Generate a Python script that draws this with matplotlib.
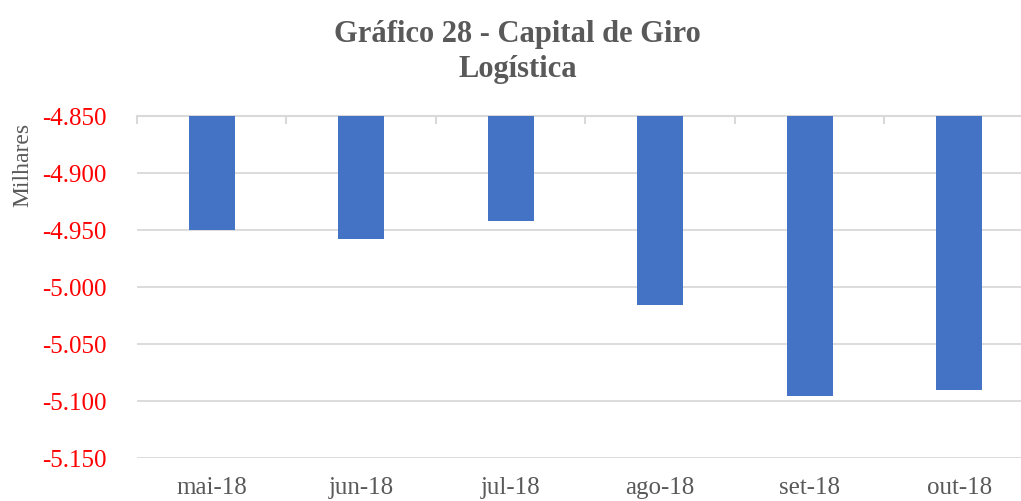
import matplotlib
matplotlib.use("Agg")
import matplotlib.pyplot as plt
import numpy as np

# Data (values in thousands)
months = ["mai-18", "jun-18", "jul-18", "ago-18", "set-18", "out-18"]
capital_giro = [-4.950, -4.958, -4.942, -5.016, -5.096, -5.090]
y_ticks = [-4.85, -4.90, -4.95, -5.00, -5.05, -5.10, -5.15]

axis_top = max(y_ticks)
axis_bottom = min(y_ticks)


def fmt(v):
    return "{:.3f}".format(v)


plt.rcParams["font.family"] = ["Liberation Serif", "DejaVu Serif"]

fig = plt.figure(figsize=(10.21, 5.02), dpi=100)
ax = fig.add_axes([137 / 1021, 1 - 459 / 502, (1034 - 137) / 1021, (459 - 117) / 502])

x = np.arange(len(months))
heights = [v - axis_top for v in capital_giro]
ax.bar(x, heights, bottom=axis_top, width=0.31, color="#4472C4", zorder=3)

ax.set_ylim(axis_bottom, axis_top)
ax.set_xlim(-0.5, len(months) - 0.5)
ax.set_yticks(y_ticks)
ax.set_yticklabels([fmt(v) for v in y_ticks], color="#FF0000", fontsize=18)
ax.yaxis.grid(True, color="#D9D9D9", linewidth=1.3, zorder=0)
ax.tick_params(axis="y", length=0, pad=22)

# category labels at the bottom
ax.set_xticks(x)
ax.set_xticklabels(months, color="#595959", fontsize=18)
ax.tick_params(axis="x", length=0, pad=13)

# category axis line at top with tick marks at boundaries
for s in ["left", "right", "bottom"]:
    ax.spines[s].set_visible(False)
ax.spines["top"].set_color("#D9D9D9")
ax.spines["top"].set_linewidth(1.5)
sec = ax.secondary_xaxis("top")
sec.set_xticks(np.arange(-0.5, len(months), 1.0))
sec.set_xticklabels([])
sec.tick_params(axis="x", direction="in", length=6, width=1.5, color="#D9D9D9")
sec.spines["top"].set_visible(False)

ax.set_ylabel("Milhares", color="#595959", fontsize=17)
ax.yaxis.set_label_coords(-0.115, 0.86)

fig.text(0.507, 0.932, "Gráfico 28 - Capital de Giro", ha="center", va="center",
         fontsize=22, fontweight="bold", color="#595959")
fig.text(0.507, 0.862, "Logística", ha="center", va="center",
         fontsize=22, fontweight="bold", color="#595959")

fig.savefig("out.png", dpi=100)
